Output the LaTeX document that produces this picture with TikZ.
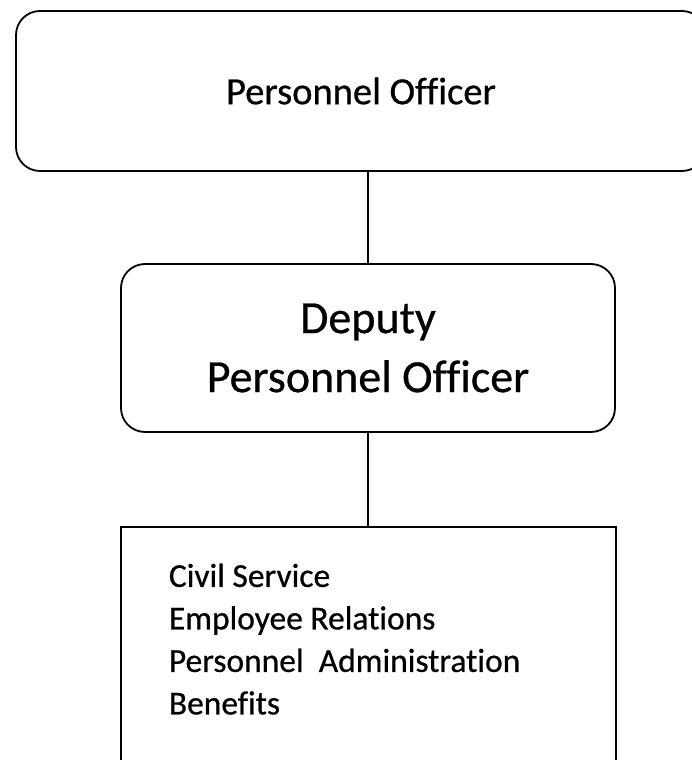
\documentclass[tikz,border=0pt]{standalone}
\usepackage{fontspec}
\setmainfont{Carlito}[Ligatures=NoCommon, FakeBold=0.6]
\usetikzlibrary{positioning}

\begin{document}
\begin{tikzpicture}[x=1pt, y=-1pt]
\tikzstyle{every node}=[draw, line width=1.8pt, align=center, inner sep=0pt];
\tikzstyle{headbox}=[rounded corners=24pt];
\tikzstyle{unitbox}=[anchor=north west];
\clip (0,0) rectangle (692,760);
\useasboundingbox (0,0) rectangle (692,760);
\node[headbox, minimum width=690pt, minimum height=160pt,
      font=\fontsize{38.5}{46}\selectfont] (head) at (361,91) {Personnel Officer};
\node[headbox, minimum width=494pt, minimum height=168pt,
      font=\fontsize{46}{59}\selectfont] (deputy) at (368,348) {Deputy\\Personnel Officer};
\node[unitbox, font=\fontsize{33.5}{42.5}\selectfont] (units) at (120,526)
  {\hspace*{48pt}\parbox[t][280pt][t]{447pt}{\raggedright\rule{0pt}{60pt}Civil Service\\
   Employee Relations\\
   Personnel~~Administration\\
   Benefits}};
\draw[line width=1.8pt] (deputy.north) -- (deputy.north |- head.south)
(deputy.south) -- (deputy.south |- units.north);
\end{tikzpicture}
\end{document}
